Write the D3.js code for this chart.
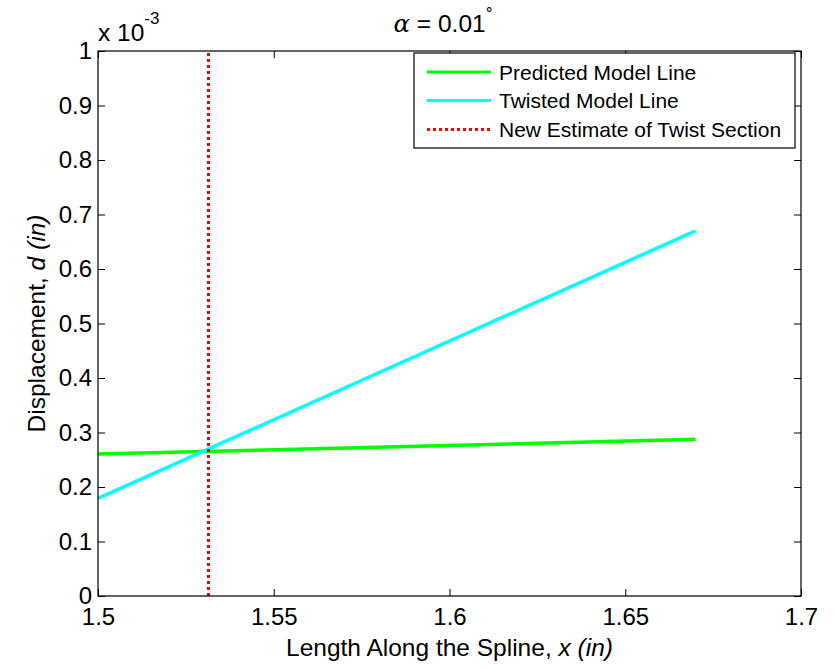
<!DOCTYPE html>
<html>
<head>
<meta charset="utf-8">
<script src="https://cdn.jsdelivr.net/npm/d3@7"></script>
<style>
  body { margin: 0; background: #fff; }
  svg { font-family: "Liberation Sans", Arial, sans-serif; }
  .tick-label { font-size: 24px; fill: #000; }
  .axis-label { font-size: 24.5px; fill: #000; }
  .legend-label { font-size: 21px; fill: #000; }
</style>
</head>
<body>
<div id="chart"></div>
<script>
// valores (d em unidades de 1e-3 in)
const xTicks = [1.5, 1.55, 1.6, 1.65, 1.7];
const yTicks = [0, 0.1, 0.2, 0.3, 0.4, 0.5, 0.6, 0.7, 0.8, 0.9, 1];
const predictedX = [1.5, 1.67];
const predictedY = [0.2605, 0.2875];
const twistedX = [1.5, 1.67];
const twistedY = [0.179, 0.670];
const twistEstimate = 1.5314;
const seriesNames = ['Predicted Model Line', 'Twisted Model Line', 'New Estimate of Twist Section'];
const seriesColors = ['#00ff00', '#00ffff', '#ff0000'];

const width = 835, height = 668;
const margin = { left: 98, right: 34, top: 51, bottom: 72 };

const svg = d3.select('#chart').append('svg')
  .attr('width', width)
  .attr('height', height);

const x = d3.scaleLinear().domain([1.5, 1.7]).range([margin.left, width - margin.right]);
const y = d3.scaleLinear().domain([0, 1]).range([height - margin.bottom, margin.top]);

const x0 = x.range()[0], x1 = x.range()[1];
const y0 = y.range()[0], y1 = y.range()[1];

// linhas de dados
const line = d3.line().x(d => x(d[0])).y(d => y(d[1]));
const predicted = predictedX.map((v, i) => [v, predictedY[i]]);
const twisted = twistedX.map((v, i) => [v, twistedY[i]]);

svg.append('path').datum(predicted).attr('d', line)
  .attr('fill', 'none').attr('stroke', seriesColors[0]).attr('stroke-width', 3.5);
svg.append('path').datum(twisted).attr('d', line)
  .attr('fill', 'none').attr('stroke', seriesColors[1]).attr('stroke-width', 3.5);
const xr = Math.round(x(twistEstimate)) + 0.5;
svg.append('line')
  .attr('x1', xr).attr('x2', xr)
  .attr('y1', y(0)).attr('y2', y(1))
  .attr('stroke', seriesColors[2]).attr('stroke-width', 3).attr('stroke-dasharray', '3,3')
  .attr('shape-rendering', 'crispEdges');

// caixa dos eixos com ticks para dentro nos 4 lados
const tickLen = 7;
const axisBottom = d3.axisBottom(x).tickValues(xTicks).tickSize(-tickLen).tickPadding(12).tickFormat(d3.format('~g'));
const axisTop = d3.axisTop(x).tickValues(xTicks).tickSize(-tickLen).tickFormat('');
const axisLeft = d3.axisLeft(y).tickValues(yTicks).tickSize(-tickLen).tickPadding(6).tickFormat(d3.format('~g'));
const axisRight = d3.axisRight(y).tickValues(yTicks).tickSize(-tickLen).tickFormat('');

function styleAxis(g) {
  g.select('.domain').remove();
  g.selectAll('.tick line').attr('stroke', '#000').attr('stroke-width', 1);
  g.selectAll('.tick text').attr('class', 'tick-label').attr('font-size', null).attr('font-family', null);
}

svg.append('g').attr('transform', `translate(0,${y0})`).call(axisBottom).call(styleAxis);
svg.append('g').attr('transform', `translate(0,${y1})`).call(axisTop).call(styleAxis);
svg.append('g').attr('transform', `translate(${x0},0)`).call(axisLeft).call(styleAxis);
svg.append('g').attr('transform', `translate(${x1},0)`).call(axisRight).call(styleAxis);

svg.append('rect')
  .attr('x', x0).attr('y', y1).attr('width', x1 - x0).attr('height', y0 - y1)
  .attr('fill', 'none').attr('stroke', '#000').attr('stroke-width', 1.2);

// expoente do eixo y
const expo = svg.append('text').attr('x', x0).attr('y', 41).attr('class', 'axis-label');
expo.append('tspan').text('x 10');
expo.append('tspan').attr('dy', -17).attr('font-size', 17).text('-3');

// título
const title = svg.append('text').attr('x', 443).attr('y', 32).attr('text-anchor', 'middle').attr('class', 'axis-label');
title.append('tspan').attr('font-family', 'DejaVu Serif').attr('font-style', 'italic').text('α');
title.append('tspan').text(' = 0.01');
title.append('tspan').attr('dy', -13).attr('font-size', 17).text('°');

// rótulos dos eixos
const xl = svg.append('text').attr('x', (x0 + x1) / 2).attr('y', 656).attr('text-anchor', 'middle').attr('class', 'axis-label');
xl.append('tspan').text('Length Along the Spline, ');
xl.append('tspan').attr('font-style', 'italic').text('x (in)');

const yl = svg.append('text').attr('transform', `translate(45,${(y0 + y1) / 2}) rotate(-90)`)
  .attr('text-anchor', 'middle').attr('class', 'axis-label');
yl.append('tspan').text('Displacement, ');
yl.append('tspan').attr('font-style', 'italic').text('d (in)');

// legenda
const lg = svg.append('g').attr('transform', 'translate(414,53)');
lg.append('rect').attr('width', 381).attr('height', 95)
  .attr('fill', '#fff').attr('stroke', '#000').attr('stroke-width', 1.2);
seriesNames.forEach((name, i) => {
  const ly = 19 + i * 28.5;
  lg.append('line').attr('x1', 13).attr('x2', 77).attr('y1', ly).attr('y2', ly)
    .attr('stroke', seriesColors[i]).attr('stroke-width', 3)
    .attr('stroke-dasharray', i === 2 ? '3,3' : null)
    .attr('shape-rendering', i === 2 ? 'crispEdges' : null);
  lg.append('text').attr('x', 85).attr('y', ly + 7.5).attr('class', 'legend-label').text(name);
});
</script>
</body>
</html>
